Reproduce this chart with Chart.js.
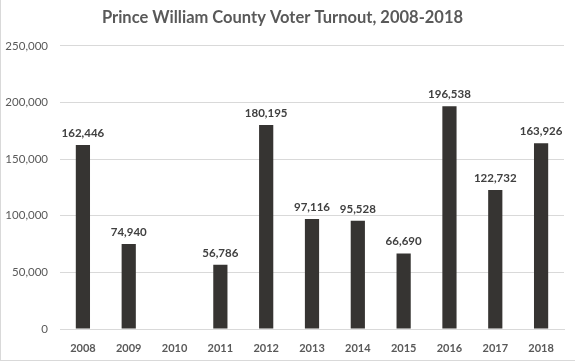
<!DOCTYPE html>
<html lang="en">
<head>
<meta charset="UTF-8">
<title>Prince William County Voter Turnout</title>
<script src="https://cdn.jsdelivr.net/npm/chart.js"></script>
<style>
    html, body { margin: 0; padding: 0; background: #fff; }
    .quadro {
        width: 574px;
        height: 360px;
        border-left: 1px solid #d9d9d9;
        border-bottom: 1px solid #d9d9d9;
    }
</style>
</head>
<body>
<div class="quadro">
    <canvas id="graficoBarra" width="574" height="360"></canvas>
</div>

<script>
var anos = ['2008', '2009', '2010', '2011', '2012', '2013', '2014', '2015', '2016', '2017', '2018'];
var eleitores = [162446, 74940, null, 56786, 180195, 97116, 95528, 66690, 196538, 122732, 163926];
var titulo = 'Prince William County Voter Turnout, 2008-2018';

var fonte = "Lato, 'Liberation Sans', sans-serif";

// rótulos em cima das barras
var rotulos = {
    id: 'rotulos',
    afterDatasetsDraw: function (chart) {
        var ctx = chart.ctx;
        var meta = chart.getDatasetMeta(0);
        ctx.save();
        ctx.font = 'bold 11.5px ' + fonte;
        ctx.fillStyle = '#404040';
        ctx.textAlign = 'center';
        ctx.textBaseline = 'bottom';
        meta.data.forEach(function (barra, i) {
            var v = eleitores[i];
            if (v === null) return;
            ctx.fillText(v.toLocaleString('en-US'), barra.x, barra.y - 6);
        });
        ctx.restore();
    }
};

new Chart(document.getElementById('graficoBarra'), {
    type: 'bar',
    data: {
        labels: anos,
        datasets: [{
            label: 'Voters',
            data: eleitores,
            backgroundColor: '#363432',
            barPercentage: 0.31,
            categoryPercentage: 1
        }]
    },
    options: {
        responsive: false,
        animation: false,
        layout: { padding: { left: 0, right: 11, top: 0, bottom: 0 } },
        plugins: {
            legend: { display: false },
            tooltip: { enabled: false },
            title: {
                display: true,
                text: titulo,
                color: '#595959',
                font: { family: fonte, size: 16.5, weight: 'bold' },
                padding: { top: 8, bottom: 18 }
            }
        },
        scales: {
            x: {
                grid: { display: false },
                border: { color: '#d9d9d9' },
                ticks: {
                    color: '#595959',
                    font: { family: fonte, size: 11, weight: 'bold' },
                    padding: 5
                },
                afterFit: function (s) { s.height = 31; }
            },
            y: {
                min: 0,
                max: 250000,
                ticks: {
                    stepSize: 50000,
                    color: '#595959',
                    font: { family: fonte, size: 11.5 },
                    padding: 12,
                    callback: function (v) { return v.toLocaleString('en-US'); }
                },
                grid: { color: '#d9d9d9', drawTicks: false },
                border: { display: false },
                afterFit: function (s) { s.width = 59; }
            }
        }
    },
    plugins: [rotulos]
});
</script>
</body>
</html>
